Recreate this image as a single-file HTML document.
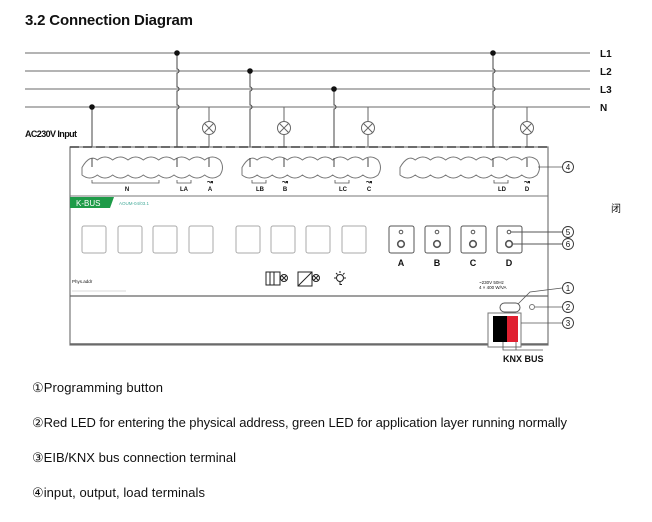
<!DOCTYPE html>
<html><head><meta charset="utf-8"><style>
html,body{margin:0;padding:0;background:#fff;width:652px;height:522px;overflow:hidden}
svg{display:block}
text{font-family:"Liberation Sans",sans-serif;fill:#111}
</style></head><body>
<svg id="s" width="652" height="522" viewBox="0 0 652 522" xmlns="http://www.w3.org/2000/svg">
<text x="25" y="25" font-size="15" font-weight="bold" textLength="168">3.2 Connection Diagram</text>
<g stroke="#888" stroke-width="1.2" fill="none">
<line x1="25" y1="53" x2="590" y2="53"/>
<line x1="25" y1="71" x2="590" y2="71"/>
<line x1="25" y1="89" x2="590" y2="89"/>
<line x1="25" y1="107" x2="590" y2="107"/>
</g>
<g font-size="10" font-weight="bold"><text x="600" y="57">L1</text><text x="600" y="75">L2</text><text x="600" y="93">L3</text><text x="600" y="111">N</text></g>
<text x="25" y="137" font-size="9" font-weight="bold" textLength="52">AC230V Input</text>
<g stroke="#444" stroke-width="1" fill="none">
<line x1="92" y1="107" x2="92" y2="167"/>
<path d="M177 53 V69 a2 2 0 0 1 0 4 V87 a2 2 0 0 1 0 4 V105 a2 2 0 0 1 0 4 V167"/>
<path d="M250 71 V87 a2 2 0 0 1 0 4 V105 a2 2 0 0 1 0 4 V167"/>
<path d="M334 89 V105 a2 2 0 0 1 0 4 V167"/>
<path d="M493 53 V69 a2 2 0 0 1 0 4 V87 a2 2 0 0 1 0 4 V105 a2 2 0 0 1 0 4 V167"/>
</g>
<g fill="#111"><circle cx="177" cy="53" r="2.8"/><circle cx="250" cy="71" r="2.8"/><circle cx="334" cy="89" r="2.8"/><circle cx="92" cy="107" r="2.8"/><circle cx="493" cy="53" r="2.8"/></g>
<g id="lamps" stroke="#666" stroke-width="1" fill="#fff"></g>
<rect x="70" y="147" width="478" height="198" fill="#fff" stroke="#777" stroke-width="1.2"/>
<line x1="70" y1="147" x2="548" y2="147" stroke="#444" stroke-width="1.5" stroke-dasharray="9,4"/>
<line x1="70" y1="196" x2="548" y2="196" stroke="#777"/>
<line x1="70" y1="296" x2="548" y2="296" stroke="#666" stroke-width="1.3"/>
<line x1="70" y1="344" x2="548" y2="344" stroke="#666" stroke-width="1.5"/>
<g id="terms" stroke="#777" stroke-width="1" fill="#fff"></g>
<g stroke="#444" stroke-width="1" fill="none">
<line x1="92" y1="158" x2="92" y2="167"/><line x1="177" y1="158" x2="177" y2="167"/><line x1="250" y1="158" x2="250" y2="167"/><line x1="334" y1="158" x2="334" y2="167"/><line x1="493" y1="158" x2="493" y2="167"/>
<line x1="209" y1="158" x2="209" y2="167"/><line x1="284" y1="158" x2="284" y2="167"/><line x1="368" y1="158" x2="368" y2="167"/><line x1="527" y1="158" x2="527" y2="167"/>
</g>
<g stroke="#555" stroke-width="0.8" fill="none">
<path d="M92 180 v3 h67 v-3"/><path d="M177 180 v3 h14 v-3"/><path d="M252 180 v3 h14 v-3"/><path d="M335 180 v3 h14 v-3"/><path d="M494 180 v3 h14 v-3"/>
<line x1="538" y1="167" x2="562" y2="167"/>
</g>
<g font-size="6" font-weight="bold" text-anchor="middle">
<text x="127" y="191">N</text><text x="184" y="191">LA</text><text x="210" y="191">A</text>
<text x="260" y="191">LB</text><text x="285" y="191">B</text>
<text x="343" y="191">LC</text><text x="369" y="191">C</text>
<text x="502" y="191">LD</text><text x="527" y="191">D</text>
<text x="210" y="184" font-size="7">↝</text><text x="285" y="184" font-size="7">↝</text><text x="369" y="184" font-size="7">↝</text><text x="527" y="184" font-size="7">↝</text>
</g>
<path d="M70 197 H114 L110 208 H70 Z" fill="#1e9b48"/>
<text x="76" y="206" font-size="8" style="fill:#fff">K-BUS</text>
<text x="119" y="205" font-size="4.5" style="fill:#4a9">AOUM-04/03.1</text>
<g fill="#fff" stroke="#aaa" stroke-width="1">
<rect x="82" y="226" width="24" height="27" rx="2"/><rect x="118" y="226" width="24" height="27" rx="2"/>
<rect x="153" y="226" width="24" height="27" rx="2"/><rect x="189" y="226" width="24" height="27" rx="2"/>
<rect x="236" y="226" width="24" height="27" rx="2"/><rect x="271" y="226" width="24" height="27" rx="2"/>
<rect x="306" y="226" width="24" height="27" rx="2"/><rect x="342" y="226" width="24" height="27" rx="2"/>
</g>
<g fill="#fff" stroke="#555" stroke-width="1">
<rect x="389" y="226" width="25" height="27" rx="2"/><rect x="425" y="226" width="25" height="27" rx="2"/>
<rect x="461" y="226" width="25" height="27" rx="2"/><rect x="497" y="226" width="25" height="27" rx="2"/>
<circle cx="401" cy="232" r="1.8"/><circle cx="437" cy="232" r="1.8"/><circle cx="473" cy="232" r="1.8"/><circle cx="509" cy="232" r="1.8"/>
<circle cx="401" cy="244" r="3.3" stroke-width="1.6"/><circle cx="437" cy="244" r="3.3" stroke-width="1.6"/><circle cx="473" cy="244" r="3.3" stroke-width="1.6"/><circle cx="509" cy="244" r="3.3" stroke-width="1.6"/>
<line x1="511" y1="232" x2="562" y2="232"/><line x1="512" y1="244" x2="562" y2="244"/>
</g>
<g font-size="9" font-weight="bold" text-anchor="middle"><text x="401" y="266">A</text><text x="437" y="266">B</text><text x="473" y="266">C</text><text x="509" y="266">D</text></g>
<text x="72" y="283" font-size="4.5">Phys.addr</text>
<line x1="72" y1="291" x2="126" y2="291" stroke="#ccc" stroke-width="0.8"/>
<text x="479" y="284" font-size="4.5">~230V 50Hz</text><text x="479" y="289" font-size="4.5">4 × 400 W/VA</text>
<g stroke="#222" stroke-width="1" fill="none">
<rect x="266" y="272" width="14" height="13"/><line x1="270" y1="272" x2="270" y2="285"/><line x1="274" y1="272" x2="274" y2="285"/>
<circle cx="284" cy="278" r="3.5"/><path d="M281.5 275.5l5 5m0-5l-5 5"/>
<rect x="298" y="272" width="14" height="14"/><line x1="298" y1="286" x2="312" y2="272"/>
<circle cx="316" cy="278" r="3.5"/><path d="M313.5 275.5l5 5m0-5l-5 5"/>
<circle cx="340" cy="278" r="3.5"/><path d="M340 271v2m-6 5h2m8 0h2m-10-5l1.5 1.5m7-1.5l-1.5 1.5m-3 7v3h2"/>
</g>
<rect x="500" y="303" width="20" height="9" rx="4.5" fill="#fff" stroke="#555"/>
<circle cx="532" cy="307" r="2.5" fill="#fff" stroke="#777"/>
<rect x="488" y="313" width="33" height="34" fill="#fff" stroke="#777"/>
<rect x="493" y="316" width="14" height="26" fill="#000"/>
<rect x="507" y="316" width="11" height="26" fill="#e02030"/>
<g stroke="#555" stroke-width="0.8" fill="none">
<path d="M518 304 L530 292 L562 288"/><line x1="535" y1="307" x2="562" y2="307"/><line x1="521" y1="323" x2="562" y2="323"/>
<path d="M503 342 v8 h40 M516 342 v8"/>
</g>
<text x="503" y="362" font-size="9" font-weight="bold">KNX BUS</text>
<g stroke="#333" stroke-width="0.9" fill="#fff">
<circle cx="568" cy="167" r="5.5"/><circle cx="568" cy="232" r="5.5"/><circle cx="568" cy="244" r="5.5"/>
<circle cx="568" cy="288" r="5.5"/><circle cx="568" cy="307" r="5.5"/><circle cx="568" cy="323" r="5.5"/>
</g>
<g font-size="8" text-anchor="middle"><text x="568" y="170">4</text><text x="568" y="235">5</text><text x="568" y="247">6</text><text x="568" y="291">1</text><text x="568" y="310">2</text><text x="568" y="326">3</text></g>
<text x="611" y="212" font-size="10" style="font-family:'Noto Sans CJK SC',sans-serif">闭</text>
<g font-size="13">
<text x="32" y="392" textLength="131">①Programming button</text>
<text x="32" y="427" textLength="535">②Red LED for entering the physical address, green LED for application layer running normally</text>
<text x="32" y="462" textLength="204">③EIB/KNX bus connection terminal</text>
<text x="32" y="497" textLength="173">④input, output, load terminals</text>
</g>
</svg>
<script>
var ns="http://www.w3.org/2000/svg";
function el(p,t,a){var e=document.createElementNS(ns,t);for(var k in a)e.setAttribute(k,a[k]);p.appendChild(e);return e;}
var T=document.getElementById("terms");
[[82,220],[242,378],[400,537]].forEach(function(g){
 var n=9,w=(g[1]-g[0])/n,y1=160,y2=175,d="M"+g[0]+" "+((y1+y2)/2);
 for(var i=0;i<n;i++){d+=" Q"+(g[0]+w*i+w/2)+" "+(y1-6)+" "+(g[0]+w*(i+1))+" "+y1;}
 d+=" Q"+(g[1]+5)+" "+((y1+y2)/2)+" "+g[1]+" "+y2;
 for(var i=n;i>0;i--){d+=" Q"+(g[0]+w*i-w/2)+" "+(y2+6)+" "+(g[0]+w*(i-1))+" "+y2;}
 d+=" Z";el(T,"path",{d:d});
});
var L=document.getElementById("lamps");
[209,284,368,527].forEach(function(x){
 el(L,"line",{x1:x,y1:107,x2:x,y2:160});
 el(L,"circle",{cx:x,cy:128,r:6.5});
 el(L,"path",{d:"M"+(x-4.5)+" 123.5l9 9m0-9l-9 9"});
});
</script>
</body></html>
